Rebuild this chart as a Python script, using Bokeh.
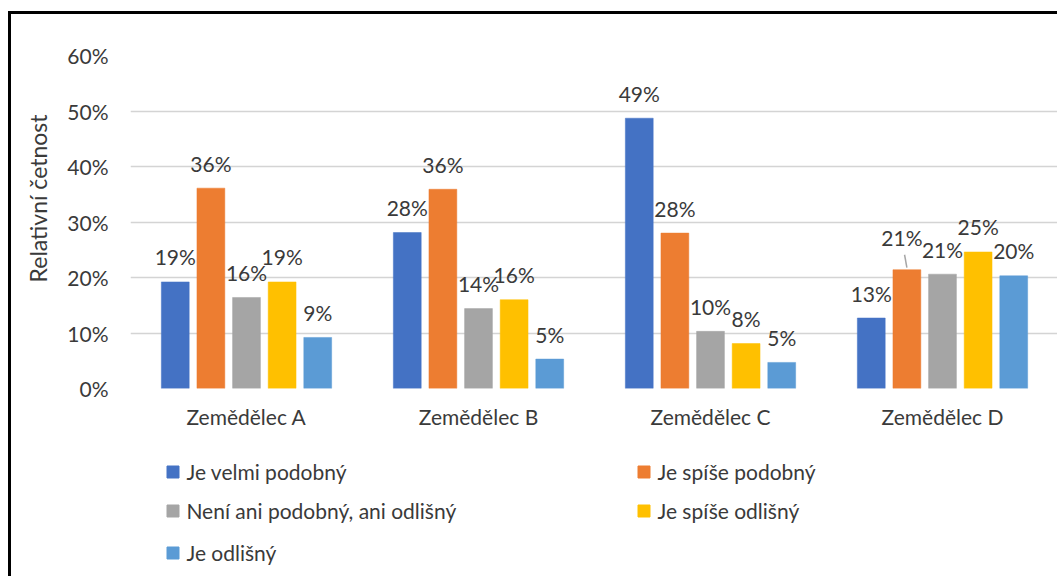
import numpy as np
from bokeh.plotting import figure
from bokeh.layouts import column
from bokeh.models import (Range1d, FixedTicker, PrintfTickFormatter, Legend,
                          LegendItem, ColumnDataSource)
from bokeh.embed import file_html
from bokeh.resources import INLINE
from bokeh.core.properties import value

# ---------------- data ----------------
categories = ["Zemědělec A", "Zemědělec B", "Zemědělec C", "Zemědělec D"]
series_names = ["Je velmi podobný", "Je spíše podobný",
                "Není ani podobný, ani odlišný", "Je spíše odlišný", "Je odlišný"]
velmi_podobny = [19.2, 28.1, 48.7, 12.7]
spise_podobny = [36.1, 35.9, 28.0, 21.4]
ani_ani = [16.4, 14.4, 10.3, 20.6]
spise_odlisny = [19.2, 16.0, 8.1, 24.6]
odlisny = [9.2, 5.3, 4.7, 20.3]
y_ticks = [0, 10, 20, 30, 40, 50, 60]
y_title = "Relativní četnost"

series_values = [velmi_podobny, spise_podobny, ani_ani, spise_odlisny, odlisny]
colors = ["#4472C4", "#ED7D31", "#A5A5A5", "#FFC000", "#5B9BD5"]

FONT = "Lato"
TEXT = "#3a3a3a"
STEP = 0.1535
BAR_W = 0.12
W = 1046

p = figure(width=W, height=426, output_backend="svg", toolbar_location=None,
           x_range=Range1d(0, 927 / 232), y_range=Range1d(0, 60),
           min_border_left=119, min_border_right=0, min_border_top=41,
           min_border_bottom=52)
p.outline_line_color = None
p.background_fill_color = "white"
p.border_fill_color = "white"

# axes
p.xaxis.ticker = FixedTicker(ticks=[i + 0.5 for i in range(len(categories))])
p.xaxis.major_label_overrides = {i + 0.5: c for i, c in enumerate(categories)}
p.yaxis.ticker = FixedTicker(ticks=y_ticks)
p.yaxis.formatter = PrintfTickFormatter(format="%d%%")
for ax in (p.xaxis[0], p.yaxis[0]):
    ax.axis_line_color = None
    ax.major_tick_line_color = None
    ax.minor_tick_line_color = None
    ax.major_tick_out = 0
    ax.major_tick_in = 0
    ax.minor_tick_out = 0
    ax.minor_tick_in = 0
    ax.major_label_text_font = FONT
    ax.major_label_text_font_size = "21px"
    ax.major_label_text_color = TEXT
p.xaxis.major_label_standoff = 15
p.yaxis.major_label_standoff = 22
# y-axis title (centred a little above the plot middle, as in the original)
p.yaxis.axis_label = "\u00a0" * 8 + y_title
p.yaxis.axis_label_text_font = FONT
p.yaxis.axis_label_text_font_size = "23px"
p.yaxis.axis_label_text_font_style = "normal"
p.yaxis.axis_label_text_color = TEXT
p.yaxis.axis_label_standoff = 12

p.xgrid.grid_line_color = None
p.ygrid.grid_line_color = "#d4d4d4"
p.ygrid.grid_line_width = 1.5

# ---------------- legend panel ----------------
q = figure(width=W, height=136, output_backend="svg", toolbar_location=None,
           x_range=Range1d(0, 1), y_range=Range1d(0, 1),
           x_axis_location=None, y_axis_location=None,
           min_border_left=0, min_border_right=0, min_border_top=0, min_border_bottom=0)
q.outline_line_color = None
q.grid.visible = False
q.background_fill_color = "white"
q.border_fill_color = "white"

# bars + labels
leg_r = []
for j, vals in enumerate(series_values):
    xs = np.arange(len(categories)) + 0.5 + (j - 2) * STEP
    dx = [0.0] * len(vals)
    dy = [-25.0] * len(vals)
    if j == 1:
        dx[3] = -5.0
        dy[3] = -32.0
    src = ColumnDataSource(dict(x=xs, top=vals,
                                label=[f"{round(v)}%" for v in vals],
                                dx=dx, dy=dy))
    p.vbar(x="x", top="top", bottom=0, width=BAR_W, source=src,
           fill_color=colors[j], line_color=colors[j], line_width=0.5)
    p.text(x="x", y="top", text="label", source=src, x_offset="dx", y_offset="dy",
           text_align="center", text_baseline="middle",
           text_font=value(FONT), text_font_size="21px", text_color=TEXT)
    # hidden twin in the legend panel, used only for its legend swatch
    leg_r.append(q.vbar(x="x", top="top", bottom=0, width=BAR_W, source=src,
                        fill_color=colors[j], line_color=colors[j], visible=False))

# leader line for the displaced label (Zemědělec D, Je spíše podobný)
xd = 3 + 0.5 + (1 - 2) * STEP
p.segment(x0=[xd - 0.01], y0=[spise_podobny[3] + 2.7], x1=[xd], y1=[spise_podobny[3] + 0.4],
          line_color="#a6a6a6", line_width=1.5)

items = [LegendItem(label=series_names[j], renderers=[leg_r[j]]) for j in range(5)]
rows = [[items[0], items[1]], [items[2], items[3]], [items[4]]]
row_y = [92.5, 53.5, 11.5]
for its, yy in zip(rows, row_y):
    leg = Legend(items=its, orientation="horizontal", location=(35.4, yy),
                 glyph_width=15, glyph_height=15, label_standoff=6,
                 label_width=450, label_height=24, spacing=0, padding=0, margin=0,
                 border_line_color=None, background_fill_alpha=0,
                 inactive_fill_alpha=0,
                 label_text_font=FONT, label_text_font_size="21px",
                 label_text_color=TEXT)
    q.add_layout(leg, "center")

layout = column(p, q, spacing=0,
                styles={"border-top": "3px solid black", "border-left": "3px solid black",
                        "margin-top": "11px", "margin-left": "8px"})

open("out.html", "w").write(file_html(layout, INLINE))
